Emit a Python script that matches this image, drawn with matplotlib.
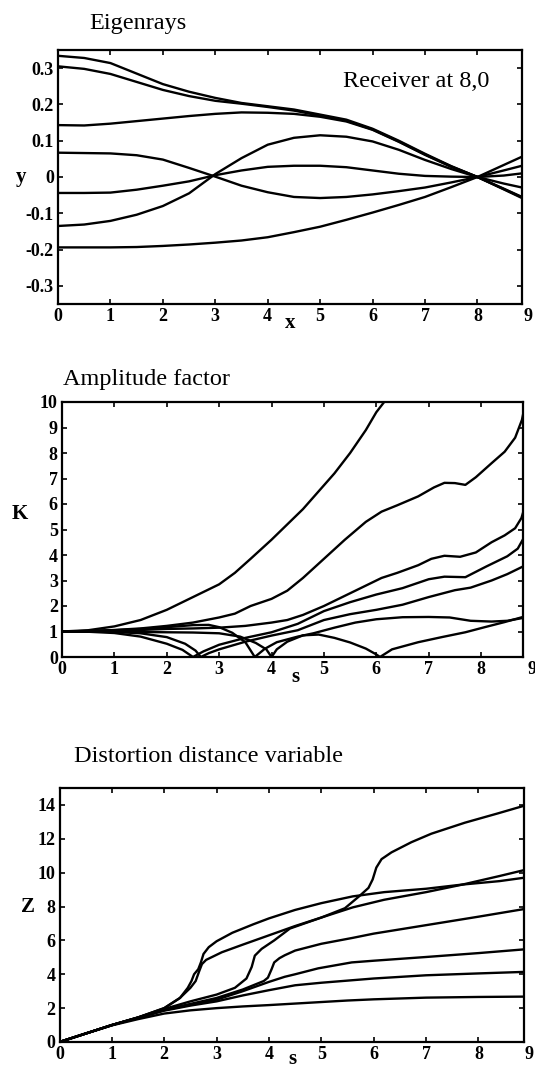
import matplotlib
matplotlib.use("Agg")
import matplotlib.pyplot as plt
import matplotlib.transforms as mtransforms

plt.rcParams['font.family'] = ['Liberation Serif', 'DejaVu Serif']
plt.rcParams['axes.unicode_minus'] = False

# ---------------- Panel 1: Eigenrays ----------------
eig_x = [0, 0.5, 1, 1.5, 2, 2.5, 3, 3.5, 4, 4.5, 5, 5.5, 6, 6.5, 7, 7.5, 8, 8.5, 8.85]
ray_a = [0.334, 0.328, 0.314, 0.285, 0.256, 0.235, 0.218, 0.204, 0.195, 0.186, 0.172, 0.158, 0.133, 0.100, 0.064, 0.030, 0.0, -0.034, -0.058]
ray_b = [0.305, 0.298, 0.284, 0.262, 0.240, 0.223, 0.210, 0.202, 0.193, 0.183, 0.169, 0.155, 0.131, 0.098, 0.062, 0.029, 0.0, -0.033, -0.056]
ray_c = [0.143, 0.142, 0.147, 0.154, 0.161, 0.168, 0.174, 0.178, 0.177, 0.174, 0.166, 0.153, 0.130, 0.097, 0.061, 0.028, 0.0, -0.032, -0.055]
ray_d = [-0.135, -0.131, -0.121, -0.104, -0.080, -0.045, 0.008, 0.052, 0.089, 0.108, 0.115, 0.111, 0.098, 0.075, 0.047, 0.022, 0.0, -0.018, -0.029]
ray_e = [0.067, 0.066, 0.065, 0.060, 0.048, 0.025, 0.001, -0.024, -0.042, -0.055, -0.058, -0.055, -0.048, -0.039, -0.029, -0.015, 0.0, 0.018, 0.031]
ray_f = [-0.044, -0.044, -0.043, -0.035, -0.024, -0.012, 0.005, 0.018, 0.028, 0.031, 0.031, 0.027, 0.018, 0.009, 0.003, 0.001, 0.0, 0.004, 0.010]
ray_g = [-0.194, -0.194, -0.194, -0.193, -0.190, -0.186, -0.181, -0.175, -0.166, -0.152, -0.137, -0.118, -0.098, -0.077, -0.055, -0.028, 0.0, 0.033, 0.056]
eig_yticks = [-0.3, -0.2, -0.1, 0, 0.1, 0.2, 0.3]
eig_yticklabels = ['-0.3', '-0.2', '-0.1', '0', '0.1', '0.2', '0.3']

# ---------------- Panel 2: Amplitude factor ----------------
k1_s = [0, 0.5, 1, 1.5, 2, 2.5, 3, 3.3, 3.6, 4, 4.3, 4.6, 4.9, 5.2, 5.5, 5.8, 6.0, 6.15]
k1_v = [1.0, 1.05, 1.2, 1.45, 1.85, 2.35, 2.85, 3.3, 3.85, 4.6, 5.2, 5.8, 6.5, 7.2, 8.0, 8.9, 9.6, 10.0]
k2_s = [0, 0.5, 1, 1.5, 2, 2.5, 3, 3.3, 3.6, 4, 4.3, 4.6, 5, 5.4, 5.8, 6.1, 6.4, 6.8, 7.1, 7.3, 7.5, 7.7, 7.9, 8.2, 8.45, 8.65, 8.78, 8.85]
k2_v = [1.0, 1.02, 1.06, 1.12, 1.22, 1.35, 1.55, 1.7, 2.0, 2.28, 2.6, 3.1, 3.85, 4.6, 5.3, 5.7, 5.95, 6.3, 6.65, 6.83, 6.82, 6.75, 7.05, 7.6, 8.05, 8.6, 9.3, 10.0]
k3_s = [0, 0.5, 1, 1.5, 2, 2.5, 3, 3.5, 4, 4.3, 4.6, 5, 5.4, 5.85, 6.1, 6.4, 6.8, 7.05, 7.3, 7.6, 7.9, 8.2, 8.45, 8.65, 8.77, 8.85]
k3_v = [1.0, 1.01, 1.03, 1.06, 1.1, 1.12, 1.15, 1.22, 1.35, 1.45, 1.65, 2.0, 2.4, 2.85, 3.1, 3.3, 3.6, 3.85, 3.97, 3.93, 4.1, 4.5, 4.77, 5.05, 5.45, 6.0]
k4_s = [0, 0.5, 1, 1.5, 2, 2.3, 2.5, 2.7, 3, 3.5, 4, 4.5, 5, 5.5, 6, 6.5, 7, 7.3, 7.7, 8.1, 8.5, 8.7, 8.85]
k4_v = [1.0, 0.99, 0.94, 0.8, 0.52, 0.28, 0.0, 0.22, 0.48, 0.75, 0.97, 1.3, 1.8, 2.15, 2.45, 2.7, 3.05, 3.15, 3.13, 3.55, 3.95, 4.25, 4.8]
k5_s = [0, 0.5, 1, 1.5, 2, 2.35, 2.55, 2.65, 2.8, 3, 3.5, 4, 4.5, 5, 5.5, 6, 6.5, 7, 7.5, 7.8, 8.2, 8.5, 8.85]
k5_v = [1.0, 1.0, 0.98, 0.93, 0.78, 0.52, 0.25, 0.0, 0.15, 0.3, 0.6, 0.84, 1.05, 1.45, 1.68, 1.85, 2.05, 2.35, 2.62, 2.72, 3.0, 3.25, 3.6]
k6_s = [0, 0.5, 1, 1.5, 2, 2.5, 2.8, 3.0, 3.25, 3.5, 3.68, 3.87, 4.1, 4.5, 4.8, 5.2, 5.6, 6.0, 6.5, 7.0, 7.4, 7.8, 8.2, 8.5, 8.85]
k6_v = [1.0, 1.02, 1.05, 1.1, 1.17, 1.25, 1.26, 1.17, 0.95, 0.58, 0.0, 0.32, 0.58, 0.8, 0.93, 1.15, 1.35, 1.48, 1.56, 1.57, 1.55, 1.42, 1.39, 1.42, 1.55]
k7_s = [0, 0.5, 1, 1.5, 2, 2.5, 3, 3.4, 3.7, 3.9, 4.0, 4.1, 4.3, 4.6, 4.9, 5.2, 5.5, 5.8, 6.0, 6.07, 6.3, 6.8, 7.25, 7.7, 8.07, 8.45, 8.85]
k7_v = [1.0, 1.0, 0.99, 0.98, 0.97, 0.96, 0.93, 0.8, 0.55, 0.3, 0.0, 0.3, 0.6, 0.85, 0.88, 0.75, 0.57, 0.33, 0.1, 0.0, 0.3, 0.58, 0.78, 0.97, 1.17, 1.37, 1.6]

# ---------------- Panel 3: Distortion distance variable ----------------
z1_s = [0, 0.5, 1, 1.5, 2, 2.5, 3, 3.5, 4, 4.5, 5, 5.5, 6, 7, 8, 8.87]
z1_v = [0, 0.5, 0.98, 1.35, 1.68, 1.87, 2.0, 2.1, 2.18, 2.27, 2.36, 2.45, 2.52, 2.62, 2.66, 2.68]
z2_s = [0, 0.5, 1, 1.5, 2, 2.5, 3, 3.5, 4, 4.5, 5, 5.6, 6, 7, 8, 8.87]
z2_v = [0, 0.5, 1.0, 1.42, 1.85, 2.15, 2.4, 2.75, 3.06, 3.35, 3.5, 3.65, 3.75, 3.94, 4.05, 4.14]
z3_s = [0, 0.5, 1, 1.5, 2, 2.5, 3, 3.5, 4, 4.3, 4.5, 4.94, 5.58, 6, 7, 8, 8.87]
z3_v = [0, 0.5, 1.0, 1.43, 1.88, 2.2, 2.5, 3.0, 3.55, 3.85, 4.0, 4.35, 4.7, 4.8, 5.02, 5.25, 5.47]
z4_s = [0, 0.5, 1, 1.5, 2, 2.5, 3, 3.5, 3.9, 3.98, 4.05, 4.1, 4.2, 4.3, 4.5, 5, 5.6, 6, 7, 8, 8.87]
z4_v = [0, 0.5, 1.0, 1.44, 1.9, 2.25, 2.6, 3.1, 3.6, 3.8, 4.3, 4.7, 4.95, 5.12, 5.4, 5.8, 6.15, 6.4, 6.9, 7.4, 7.85]
z5_s = [0, 0.5, 1, 1.5, 2, 2.3, 2.45, 2.52, 2.57, 2.65, 2.7, 2.75, 2.85, 3.0, 3.3, 3.7, 4.0, 4.5, 5.0, 5.6, 6.2, 7.0, 7.7, 8.4, 8.87]
z5_v = [0, 0.5, 1.0, 1.45, 2.0, 2.6, 3.2, 3.6, 4.0, 4.3, 4.7, 5.2, 5.6, 5.95, 6.45, 6.95, 7.3, 7.8, 8.2, 8.6, 8.85, 9.05, 9.3, 9.5, 9.7]
z6_s = [0, 0.5, 1, 1.5, 2, 2.3, 2.5, 2.6, 2.67, 2.72, 2.8, 3.1, 3.5, 4.0, 4.5, 5.0, 5.6, 6.2, 7.0, 7.7, 8.4, 8.87]
z6_v = [0, 0.5, 1.0, 1.45, 2.0, 2.6, 3.2, 3.6, 4.2, 4.6, 4.85, 5.3, 5.75, 6.3, 6.85, 7.35, 7.95, 8.4, 8.85, 9.3, 9.8, 10.15]
z7_s = [0, 0.5, 1, 1.5, 2, 2.5, 3.0, 3.35, 3.57, 3.67, 3.73, 3.86, 4.1, 4.4, 5.0, 5.45, 5.72, 5.9, 5.98, 6.05, 6.15, 6.34, 6.72, 7.1, 7.74, 8.37, 8.87]
z7_v = [0, 0.5, 1.0, 1.45, 1.95, 2.4, 2.8, 3.2, 3.75, 4.43, 5.1, 5.5, 6.0, 6.7, 7.35, 7.9, 8.6, 9.1, 9.6, 10.3, 10.8, 11.2, 11.8, 12.3, 12.95, 13.5, 13.95]

x_ticks = [0, 1, 2, 3, 4, 5, 6, 7, 8]
extra_tick = 9
k_ticks = list(range(0, 11))
z_ticks = [0, 2, 4, 6, 8, 10, 12, 14]

W, H = 535, 1072
fig = plt.figure(figsize=(W / 100, H / 100), dpi=100)

def px_axes(left, top, right, bottom):
    return fig.add_axes([left / W, 1 - bottom / H, (right - left) / W, (bottom - top) / H])

LW = 1.7
TICKFS = 13

def style(ax, xmax, yticks, ylabels, ymin, ymax):
    ax.set_xlim(0, xmax)
    ax.set_ylim(ymin, ymax)
    ax.set_xticks(x_ticks)
    ax.set_xticklabels([str(t) for t in x_ticks])
    ax.set_yticks(yticks)
    ax.set_yticklabels(ylabels)
    ax.tick_params(direction='in', length=3.5, width=1.2, top=True, right=True,
                   labelsize=TICKFS, pad=3)
    for lab in ax.get_xticklabels() + ax.get_yticklabels():
        lab.set_fontweight('bold')
    for sp in ax.spines.values():
        sp.set_linewidth(1.6)
    ax.annotate(str(extra_tick), xy=(extra_tick, 0), xycoords=('data', 'axes fraction'),
                xytext=(-1, -3), textcoords='offset points', ha='center', va='top',
                fontsize=TICKFS, fontweight='bold', annotation_clip=False)

# Panel 1
ax1 = px_axes(58, 50, 522, 304)
for ys in [ray_a, ray_b, ray_c, ray_d, ray_e, ray_f, ray_g]:
    ax1.plot(eig_x, ys, color='black', lw=LW, solid_capstyle='butt')
style(ax1, 8.85, eig_yticks, eig_yticklabels, -0.35, 0.35)
tr1 = mtransforms.blended_transform_factory(ax1.transData, ax1.transAxes)
ax1.text(4.43, -0.075, 'x', transform=tr1, ha='center', va='center', fontsize=15, fontweight='bold')
ax1.text(-0.08, 0.5, 'y', transform=ax1.transAxes, ha='center', va='center', fontsize=15, fontweight='bold')
fig.text(89 / W, 1 - 29 / H, 'Eigenrays', ha='left', va='baseline', fontsize=17.5)
fig.text(489 / W, 1 - 87 / H, 'Receiver at 8,0', ha='right', va='baseline', fontsize=17.5)

# Panel 2
ax2 = px_axes(62, 402, 523, 657)
for s, v in [(k1_s, k1_v), (k2_s, k2_v), (k3_s, k3_v), (k4_s, k4_v),
             (k5_s, k5_v), (k6_s, k6_v), (k7_s, k7_v)]:
    ax2.plot(s, v, color='black', lw=LW)
style(ax2, 8.8, k_ticks, [str(t) for t in k_ticks], 0, 10)
tr2 = mtransforms.blended_transform_factory(ax2.transData, ax2.transAxes)
ax2.text(4.45, -0.08, 's', transform=tr2, ha='center', va='center', fontsize=15, fontweight='bold')
ax2.text(-0.091, 5.6, 'K', transform=mtransforms.blended_transform_factory(ax2.transAxes, ax2.transData),
         ha='center', va='center', fontsize=15, fontweight='bold')
fig.text(63 / W, 1 - 385 / H, 'Amplitude factor', ha='left', va='baseline', fontsize=17.5)

# Panel 3
ax3 = px_axes(59.5, 788, 524, 1042)
for s, v in [(z1_s, z1_v), (z2_s, z2_v), (z3_s, z3_v), (z4_s, z4_v),
             (z5_s, z5_v), (z6_s, z6_v), (z7_s, z7_v)]:
    ax3.plot(s, v, color='black', lw=LW)
style(ax3, 8.87, z_ticks, [str(t) for t in z_ticks], 0, 15)
tr3 = mtransforms.blended_transform_factory(ax3.transData, ax3.transAxes)
ax3.text(4.44, -0.088, 's', transform=tr3, ha='center', va='baseline', fontsize=15, fontweight='bold')
ax3.text(-0.067, 8.0, 'Z', transform=mtransforms.blended_transform_factory(ax3.transAxes, ax3.transData),
         ha='center', va='center', fontsize=15, fontweight='bold')
fig.text(74 / W, 1 - 762 / H, 'Distortion distance variable', ha='left', va='baseline', fontsize=17.5)

fig.savefig('out.png', dpi=100)
